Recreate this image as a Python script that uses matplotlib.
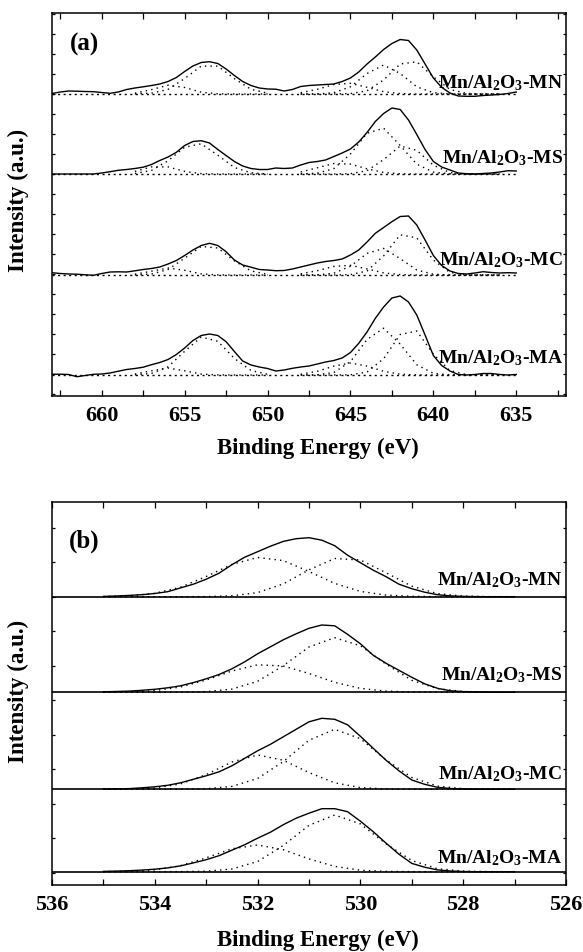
import numpy as np
import matplotlib.pyplot as plt
from matplotlib.ticker import MultipleLocator

plt.rcParams['font.family'] = ['Liberation Serif', 'DejaVu Serif']
plt.rcParams['font.weight'] = 'bold'
plt.rcParams['mathtext.fontset'] = 'custom'
plt.rcParams['mathtext.rm'] = 'Liberation Serif:bold'
plt.rcParams['mathtext.it'] = 'Liberation Serif:bold'
plt.rcParams['mathtext.bf'] = 'Liberation Serif:bold'

# samples, bottom to top
samples = ["MA", "MC", "MS", "MN"]

# ---- (a) Mn 2p, measured envelope, 663 -> 635 eV every 0.5 eV ----
mn_energy = np.arange(663.0, 634.75, -0.5)
mn2p_MN = [0.5, 2, 3, 2.8, 2.5, 2.3, 1.5, 0.7, 2, 4.5, 6, 7.2, 8.5, 10, 12.5, 16.5, 22.5, 28, 31.5,
           32.3, 30.5, 25, 18.5, 12.5, 8.5, 6, 5, 4.8, 3, 4.5, 7.5, 8.5, 9, 9.5, 10, 12.5, 16, 22, 30,
           37, 44.5, 50.5, 54.5, 53.5, 44, 30, 16, 6.7, 1, -2, -2.3, -2.3, -1.5, -1, -0.5, 0.5, 2]
mn2p_MS = [0, 0, 0, 0, 0, 0, 1, 2.3, 3.7, 4.5, 5.5, 6.8, 9.5, 13.5, 17, 21.7, 28.5, 32.5, 33.3,
           31, 24.5, 18.5, 12.5, 8, 5.5, 4.5, 4.5, 6, 5.5, 6, 9, 11.5, 12.5, 14, 17.5, 21, 25, 32, 41.5,
           52.5, 60.5, 66, 64.5, 54, 39.5, 24.5, 12.5, 7, 4, 1, 0.3, 0, 0.5, 1, 2, 3.3, 3]
mn2p_MC = [2.3, 1.5, 1, 0.8, 0.2, -0.3, 1.5, 3, 3.2, 3, 4.2, 5.5, 6.5, 8, 11, 14.5, 19.5, 25, 29.5,
           31.7, 29.5, 23.3, 15, 10, 7.8, 5.5, 5, 4.3, 4.5, 6, 8, 10, 12, 13.5, 14.5, 16, 20, 25, 33,
           41.7, 47.5, 53.3, 58.5, 59, 50, 35, 19.5, 9.5, 4, 1.5, 1, 2, 3.3, 2.5, 2, 2.3, 2]
mn2p_MA = [0.7, 0.8, 0.5, -1.7, -0.5, 0.7, 1, 2, 3.8, 5.5, 6.5, 7.8, 10.3, 12.5, 15.5, 20.5, 27, 34.5, 39.5,
           41, 39.5, 33.3, 23.5, 14, 10, 8, 6.5, 4, 5, 6.7, 8, 9, 11, 13, 14.5, 17, 22.5, 31.7, 43,
           56.7, 68, 77, 79, 73, 60, 40, 19.5, 9.5, 4, 0.5, 0, 0.5, 1.5, 1.5, 0.5, 0, 0.5]

# fitted components: Mn 2p3/2 (648 -> 636 eV) and Mn 2p1/2 (658 -> 650 eV)
mn_p32_energy = np.arange(648.0, 635.5, -1.0)
mn_p12_energy = np.arange(658.0, 649.5, -1.0)

p32_MN = [[0, 0, 0, 0.4, 3.2, 14.0, 30.0, 32.2, 17.2, 4.6, 0.6, 0, 0],
          [0, 0.1, 1.3, 7.2, 20.5, 29.0, 20.5, 7.2, 1.3, 0.1, 0, 0, 0],
          [1.3, 4.7, 9.5, 10.7, 6.7, 2.3, 0.4, 0, 0, 0, 0, 0, 0]]
p12_MN = [[0.1, 0.8, 4.7, 15.4, 27.9, 27.9, 15.4, 4.7, 0.8],
          [0.8, 4.4, 8.8, 6.5, 1.8, 0.2, 0, 0, 0]]
p32_MS = [[0, 0, 0, 0.3, 3.3, 14.4, 28.0, 23.7, 8.8, 1.4, 0, 0, 0],
          [0.1, 0.8, 5.4, 20.0, 40.7, 45.8, 28.5, 9.8, 1.9, 0.2, 0, 0, 0],
          [2.0, 6.2, 10.5, 9.9, 5.2, 1.5, 0.2, 0, 0, 0, 0, 0, 0]]
p12_MS = [[0.5, 3.6, 13.2, 26.8, 30.2, 18.8, 6.5, 1.2, 0.1],
          [2.6, 7.1, 7.1, 2.6, 0.4, 0, 0, 0, 0]]
p32_MC = [[0, 0, 0, 0.4, 4.0, 19.1, 40.2, 37.1, 14.9, 2.6, 0.2, 0, 0],
          [0, 0.2, 1.8, 8.8, 21.6, 26.6, 16.4, 5.0, 0.8, 0, 0, 0, 0],
          [1.2, 4.3, 8.6, 9.7, 6.1, 2.1, 0.4, 0, 0, 0, 0, 0, 0]]
p12_MC = [[0.1, 1.0, 5.5, 16.8, 28.6, 27.0, 14.1, 4.1, 0.6],
          [0.8, 3.8, 7.0, 4.7, 1.1, 0.1, 0, 0, 0]]
p32_MA = [[0, 0, 0, 0.2, 2.9, 16.3, 40.5, 44.0, 20.9, 4.4, 0.4, 0, 0],
          [0, 0.2, 2.5, 13.4, 35.5, 46.8, 30.9, 10.2, 1.7, 0.1, 0, 0, 0],
          [0.8, 3.7, 8.9, 12.0, 8.9, 3.7, 0.8, 0.1, 0, 0, 0, 0, 0]]
p12_MA = [[0.2, 1.6, 8.2, 23.7, 38.0, 33.7, 16.6, 4.5, 0.7],
          [0.9, 4.2, 7.0, 4.2, 0.9, 0.1, 0, 0, 0]]

# ---- (b) O 1s, envelope 535 -> 527 eV every 0.25 eV ----
o_energy = np.arange(535.0, 526.9, -0.25)
o1s_MN = [0.3, 0.7, 1.3, 2.0, 3.2, 5.0, 8.8, 12.5, 17.5, 23.5, 32.0, 39.5, 45.0, 50.5, 55.3, 58.0, 59.0,
          56.5, 51.0, 41.5, 34.0, 26.5, 20.0, 12.5, 8.0, 4.5, 2.0, 0.8, 0.3, 0.1, 0, 0, 0]
o1s_MS = [0.5, 0.8, 1.2, 2.0, 3.0, 4.5, 6.5, 9.7, 13.5, 17.8, 23.5, 30.5, 38.5, 45.5, 52.5, 58.5, 64.0,
          67.3, 66.5, 58.0, 48.5, 37.0, 29.0, 22.0, 15.0, 8.5, 4.0, 1.5, 0.7, 0.3, 0.1, 0, 0]
o1s_MC = [0.2, 0.4, 0.7, 1.5, 2.5, 4.0, 6.5, 10.0, 13.5, 17.5, 23.5, 31.0, 38.5, 45.0, 52.5, 60.0, 67.5,
          71.0, 70.0, 64.5, 53.0, 41.0, 29.0, 18.5, 9.3, 5.0, 2.0, 0.8, 0.3, 0.1, 0, 0, 0]
o1s_MA = [0.3, 0.6, 1.0, 1.6, 2.5, 3.8, 5.8, 8.8, 12.0, 16.0, 21.5, 27.0, 33.5, 39.5, 47.0, 53.5, 58.5,
          63.0, 63.0, 60.0, 50.5, 40.0, 28.5, 17.5, 8.3, 4.5, 1.8, 0.7, 0.2, 0, 0, 0, 0]

# fitted O 1s components (535 -> 527 eV every 0.5 eV): higher BE, lower BE
o_comp_energy = np.arange(535.0, 526.9, -0.5)
o_comp_MN = [[0.2, 0.9, 3.4, 9.5, 20.2, 32.3, 39.2, 36.1, 25.2, 13.3, 5.3, 1.6, 0.4, 0.1, 0, 0, 0],
             [0, 0, 0, 0, 0.1, 0.9, 4.1, 12.8, 26.9, 38.2, 36.7, 23.9, 10.5, 3.1, 0.6, 0.1, 0]]
o_comp_MS = [[0.1, 0.4, 1.7, 5.3, 12.3, 21.3, 27.5, 26.3, 18.8, 10.0, 3.9, 1.2, 0.3, 0.1, 0, 0, 0],
             [0, 0, 0, 0.1, 0.7, 3.2, 11.0, 26.6, 45.3, 54.6, 46.5, 28.1, 12.0, 3.6, 0.8, 0.1, 0]]
o_comp_MC = [[0, 0.2, 1.3, 5.4, 14.7, 27.3, 34.3, 29.1, 16.7, 6.5, 1.7, 0.3, 0, 0, 0, 0, 0],
             [0, 0, 0, 0.1, 0.5, 2.9, 10.8, 27.7, 49.1, 60.0, 50.6, 29.4, 11.8, 3.2, 0.6, 0.1, 0]]
o_comp_MA = [[0.1, 0.4, 1.8, 6.0, 13.9, 22.9, 26.7, 22.0, 12.8, 5.3, 1.5, 0.3, 0.1, 0, 0, 0, 0],
             [0, 0, 0, 0.1, 0.5, 2.7, 10.2, 26.2, 46.4, 56.7, 47.8, 27.8, 11.2, 3.0, 0.6, 0.1, 0]]

mn_env = {"MN": mn2p_MN, "MS": mn2p_MS, "MC": mn2p_MC, "MA": mn2p_MA}
mn_p32 = {"MN": p32_MN, "MS": p32_MS, "MC": p32_MC, "MA": p32_MA}
mn_p12 = {"MN": p12_MN, "MS": p12_MS, "MC": p12_MC, "MA": p12_MA}
o_env = {"MN": o1s_MN, "MS": o1s_MS, "MC": o1s_MC, "MA": o1s_MA}
o_comp = {"MN": o_comp_MN, "MS": o_comp_MS, "MC": o_comp_MC, "MA": o_comp_MA}

# stacking offsets and label heights (a.u.)
offset_a = {"MA": 21, "MC": 121, "MS": 222, "MN": 302}
label_a = {"MA": 11.5, "MC": 10, "MS": 11, "MN": 6}
offset_b = {"MA": 13.3, "MC": 95.7, "MS": 192.7, "MN": 288.3}
label_b = {"MA": 8.5, "MC": 9.5, "MS": 12, "MN": 11.5}

dots = (0, (1, 3))
W, H = 583, 952
fig = plt.figure(figsize=(W / 100, H / 100), dpi=100)
ax_a = fig.add_axes([52 / W, (H - 396) / H, 514 / W, 382.7 / H])
ax_b = fig.add_axes([52 / W, (H - 885) / H, 514 / W, 383.3 / H])

# Mn 2p
for s in samples:
    off = offset_a[s]
    ax_a.plot(mn_energy, np.zeros_like(mn_energy) + off, color='black', lw=1.0, ls=(0, (1.5, 2.5)))
    for comp in mn_p32[s]:
        ax_a.plot(mn_p32_energy, np.array(comp) + off, color='black', lw=1.0, ls=dots)
    for comp in mn_p12[s]:
        ax_a.plot(mn_p12_energy, np.array(comp) + off, color='black', lw=1.0, ls=dots)
    ax_a.plot(mn_energy, np.array(mn_env[s]) + off, color='black', lw=1.0)
    ax_a.text(632.2, off + label_a[s], f"Mn/Al$_2$O$_3$-{s}", ha='right', va='baseline',
              fontsize=14, fontweight='bold')

ax_a.set_xlim(663, 632)
ax_a.set_ylim(0, 382.7)
ax_a.xaxis.set_major_locator(MultipleLocator(5))
ax_a.xaxis.set_minor_locator(MultipleLocator(2.5))
ax_a.set_yticks(np.arange(2, 383, 20))
ax_a.text(661.9, 345, "(a)", fontsize=18, fontweight='bold')

# O 1s
for s in samples:
    off = offset_b[s]
    ax_b.axhline(off, color='black', lw=1.2)
    for comp in o_comp[s]:
        ax_b.plot(o_comp_energy, np.array(comp) + off, color='black', lw=1.0, ls=dots)
    ax_b.plot(o_energy, np.array(o_env[s]) + off, color='black', lw=1.0)
    ax_b.text(526.08, off + label_b[s], f"Mn/Al$_2$O$_3$-{s}", ha='right', va='baseline',
              fontsize=14, fontweight='bold')

ax_b.set_xlim(536, 526)
ax_b.set_ylim(0, 383.3)
ax_b.xaxis.set_major_locator(MultipleLocator(2))
ax_b.xaxis.set_minor_locator(MultipleLocator(1))
ax_b.set_yticks(np.arange(288.3 - 34.5 * 8, 383, 34.5))
ax_b.text(535.67, 337.3, "(b)", fontsize=18, fontweight='bold')

for ax in (ax_a, ax_b):
    for sp in ax.spines.values():
        sp.set_linewidth(1.1)
    ax.tick_params(which='both', direction='in', top=True, right=True, labelleft=False,
                   width=0.9, labelsize=16, pad=7)
    ax.tick_params(axis='x', which='major', length=4)
    ax.tick_params(axis='x', which='minor', length=4)
    ax.tick_params(axis='y', length=2.5)
    for lab in ax.get_xticklabels():
        lab.set_fontweight('bold')

fig.text(318 / W, 1 - 448 / H, "Binding Energy (eV)", ha='center', va='center', fontsize=16.5, fontweight='bold')
fig.text(318 / W, 1 - 940 / H, "Binding Energy (eV)", ha='center', va='center', fontsize=16.5, fontweight='bold')
fig.text(18 / W, 1 - 200 / H, "Intensity (a.u.)", rotation=90, ha='center', va='center', fontsize=16.5, fontweight='bold')
fig.text(18 / W, 1 - 691 / H, "Intensity (a.u.)", rotation=90, ha='center', va='center', fontsize=16.5, fontweight='bold')

fig.savefig("out.png", dpi=100)
